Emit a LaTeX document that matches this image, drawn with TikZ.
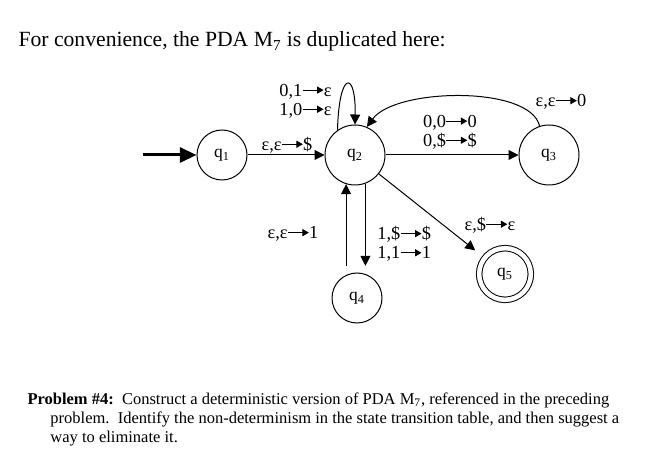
\documentclass[tikz,border=0pt]{standalone}
\usepackage{fontspec}
\setmainfont{Liberation Serif}
\usetikzlibrary{arrows.meta}
\newcommand\pdaarrow{\tikz[baseline=-3.6pt]\draw[line width=0.5pt,-{Triangle[length=3.8pt,width=4.2pt]}] (0pt,0pt) -- (12.5pt,0pt);}
\begin{document}
\begin{tikzpicture}[x=0.6pt,y=-0.6pt,line width=0.6pt,
  every node/.style={font=\fontsize{11}{11.5}\selectfont,inner sep=0pt},
  state/.style={draw,circle,minimum size=30pt,font=\fontsize{10.5}{12}\selectfont},
  bigstate/.style={state,minimum size=36pt},
  accepting/.style={state,double,double distance=2.7pt,minimum size=31pt},
  edge/.style={-{Triangle[length=6pt,width=6pt]}}]
\useasboundingbox (0,0) rectangle (654,469);
\node[anchor=base west,font=\fontsize{13}{15}\selectfont] (title) at (18,47) {For convenience, the PDA M\textsubscript{7} is duplicated here:};
\node[state] (q1) at (222,155) {q\textsubscript{1}};
\node[bigstate] (q2) at (355,155) {q\textsubscript{2}};
\node[bigstate] (q3) at (549,155) {q\textsubscript{3}};
\node[state] (q4) at (357,298) {q\textsubscript{4}};
\node[accepting] (q5) at (505,274) {q\textsubscript{5}};
\coordinate (start) at (143,155);
\draw[line width=1.8pt,-{Triangle[length=10pt,width=9pt]}] (start) -- (q1);
\draw[edge] (q1) -- (q2);
\draw[edge] (q2.125) .. controls (339,70) and (356,70) .. (q2.90);
\draw[edge] (q3.108) .. controls (530,85) and (395,88) .. (q2.67);
\draw[edge] (q2) -- (q3);
\draw[edge,shorten >=4pt] (q2.-70) -- (q2.-70 |- q4.north);
\draw[edge,shorten <=4pt] (q4.north -| q2.-107) -- (q2.-107);
\draw[edge,shorten >=7pt] (q2) -- (q5);
\node[anchor=east,align=right] (lloop) at (332,101) {0,1\pdaarrow ε\\1,0\pdaarrow ε};
\node (l12) at (287,145) {ε,ε\pdaarrow\$};
\node[align=left] (l23) at (450,132) {0,0\pdaarrow 0\\0,\$\pdaarrow\$};
\node (l32) at (561,102) {ε,ε\pdaarrow 0};
\node (l42) at (293,234) {ε,ε\pdaarrow 1};
\node[anchor=west,align=left] (l24) at (377,244) {1,\$\pdaarrow\$\\1,1\pdaarrow 1};
\node (l25) at (490,225) {ε,\$\pdaarrow ε};
\node[anchor=north west,align=left,font=\fontsize{9.9}{11.4}\selectfont] (prob) at (27,392) {\textbf{Problem \#4:}\ \ Construct a deterministic version of PDA M\textsubscript{7}, referenced in the preceding\\\hspace*{13.8pt}problem.\ \ Identify the non-determinism in the state transition table, and then suggest a\\\hspace*{13.8pt}way to eliminate it.};
\end{tikzpicture}
\end{document}
